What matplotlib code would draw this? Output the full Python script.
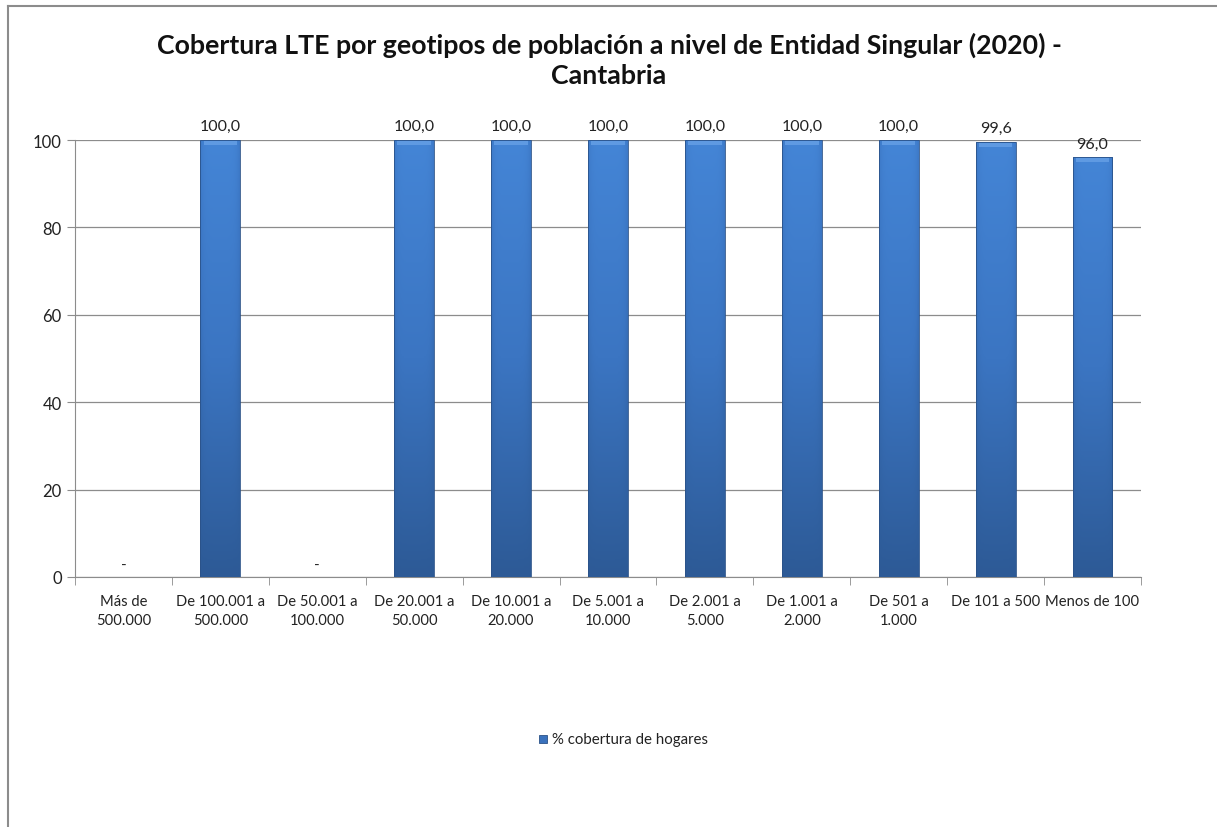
"""Cobertura LTE por geotipos - Cantabria, bar chart with Excel-like shading."""

import numpy as np
import matplotlib
matplotlib.use("Agg")
import matplotlib.pyplot as plt
from matplotlib.patches import Rectangle
from matplotlib.colors import LinearSegmentedColormap

plt.rcParams['font.family'] = ['Lato', 'DejaVu Sans']

categories = ["Más de\n500.000", "De 100.001 a\n500.000", "De 50.001 a\n100.000",
              "De 20.001 a\n50.000", "De 10.001 a\n20.000", "De 5.001 a\n10.000",
              "De 2.001 a\n5.000", "De 1.001 a\n2.000", "De 501 a\n1.000",
              "De 101 a 500", "Menos de 100"]
values = [np.nan, 100.0, np.nan, 100.0, 100.0, 100.0, 100.0, 100.0, 100.0, 99.6, 96.0]
series_name = "% cobertura de hogares"
title = "Cobertura LTE por geotipos de población a nivel de Entidad Singular (2020) -\nCantabria"

W, H = 1217, 828
fig = plt.figure(figsize=(W / 100, H / 100), dpi=100)
ax = fig.add_axes([75 / W, 1 - 578 / H, (1141 - 75) / W, (578 - 141) / H])

x = np.arange(len(categories))
heights = np.nan_to_num(values)
BAR_W = 0.41
bars = ax.bar(x, heights, width=BAR_W, color="#3a72bd", edgecolor="none", zorder=3)

# gradient fill: lighter at top, darker at bottom, shaded sides
cmap = LinearSegmentedColormap.from_list("bl", ["#2d5a96", "#3b75c2", "#4485d6"])
ny, nx = 200, 40
vert = np.linspace(0, 1, ny)[:, None]
xs = np.linspace(-1, 1, nx)[None, :]
side = 1 - 0.35 * np.abs(xs) ** 6
grad = vert * side
for b, v in zip(bars, heights):
    if v <= 0:
        continue
    x0, w = b.get_x(), b.get_width()
    im = ax.imshow(grad, extent=(x0, x0 + w, 0, v), origin="lower", cmap=cmap,
                   vmin=0, vmax=1, aspect="auto", zorder=3)
    im.set_clip_path(b)
    # soft bevel at the top
    ax.add_patch(Rectangle((x0 + w * 0.08, v - 1.1), w * 0.84, 0.9, color="#5f9ae2",
                           lw=0, zorder=4))
    ax.add_patch(Rectangle((x0, 0), w, v, fill=False, ec="#2b5288", lw=0.6, zorder=4))

for xi, v in zip(x, values):
    if np.isnan(v):
        ax.text(xi, 1.2, "-", ha="center", va="bottom", fontsize=11, color="#222222")
    else:
        ax.text(xi, v + 1.6, f"{v:.1f}".replace(".", ","), ha="center", va="bottom",
                fontsize=11.5, color="#222222")

ax.set_xlim(-0.5, len(categories) - 0.5)
ax.set_ylim(0, 100)
ax.set_yticks(range(0, 101, 20))
ax.yaxis.grid(True, color="#8c8c8c", lw=0.9, zorder=1)
ax.set_axisbelow(True)
ax.set_xticks(x)
ax.set_xticklabels(categories, fontsize=10.6, color="#222222", linespacing=1.5)
ax.set_xticks(np.arange(-0.5, len(categories)), minor=True)
ax.tick_params(axis="x", which="major", length=0, pad=12)
ax.tick_params(axis="x", which="minor", length=6, color="#8c8c8c", direction="out")
ax.tick_params(axis="y", length=6, color="#8c8c8c", labelsize=12, labelcolor="#222222")
for s in ("top", "right"):
    ax.spines[s].set_visible(False)
for s in ("left", "bottom"):
    ax.spines[s].set_color("#8c8c8c")

fig.text(609 / W, 1 - 60 / H, title, ha="center", va="center", fontsize=19.3,
         fontweight="bold", linespacing=1.3, color="#111111")

# legend
leg_y = 1 - 740 / H
fig.patches.append(Rectangle((539 / W, leg_y - 4 / H), 8 / W, 8 / H, transform=fig.transFigure,
                             facecolor="#3a72bd", edgecolor="#2b5288", lw=0.6))
fig.text(552 / W, leg_y, series_name, ha="left", va="center", fontsize=10.8, color="#222222")

# chart border
fig.add_artist(plt.Line2D([8 / W, 8 / W], [0, 1 - 7 / H], transform=fig.transFigure,
                          color="#8c8c8c", lw=1.5))
fig.add_artist(plt.Line2D([8 / W, 1], [1 - 7 / H, 1 - 7 / H], transform=fig.transFigure,
                          color="#8c8c8c", lw=1.5))

fig.savefig("out.png", dpi=100)
